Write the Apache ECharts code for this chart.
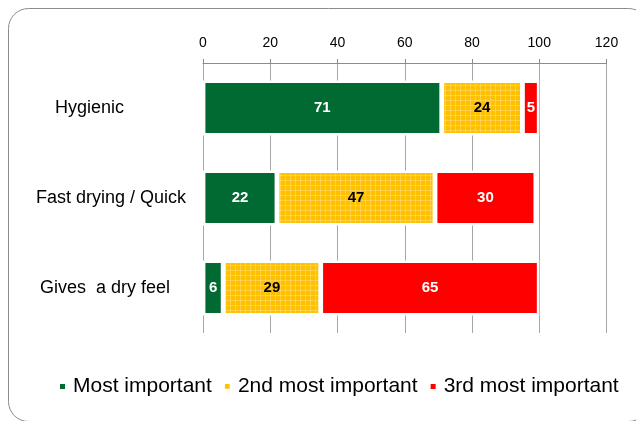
<!DOCTYPE html>
<html>
<head>
<meta charset="utf-8">
<script src="https://cdn.jsdelivr.net/npm/echarts@6/dist/echarts.min.js"></script>
<style>
html,body{margin:0;padding:0;background:#fff;}
#chart{width:636px;height:421px;}
</style>
</head>
<body>
<div id="chart"></div>
<script>
var categories = ['Hygienic', 'Fast drying / Quick', 'Gives  a dry feel'];
var mostImportant = [71, 22, 6];
var secondImportant = [24, 47, 29];
var thirdImportant = [5, 30, 65];
var seriesNames = ['Most important', '2nd most important', '3rd most important'];

var pat = document.createElement('canvas');
pat.width = 5; pat.height = 5;
var pc = pat.getContext('2d');
pc.fillStyle = '#FFC000';
pc.fillRect(0, 0, 5, 5);
pc.fillStyle = 'rgba(255,220,110,0.6)';
pc.fillRect(0, 0, 5, 1);
pc.fillRect(0, 0, 1, 5);

var labelPad = {'Hygienic': 62, 'Fast drying / Quick': 0, 'Gives  a dry feel': 16};

var chart = echarts.init(document.getElementById('chart'), null, {renderer: 'canvas'});
var font = 'Liberation Sans, Arial, sans-serif';

function barSeries(name, data, color, labelColor) {
  return {
    name: name,
    type: 'bar',
    stack: 'total',
    data: data,
    barWidth: 55,
    itemStyle: {color: color, borderColor: '#fff', borderWidth: 2.4},
    label: {
      show: true,
      position: 'inside',
      color: labelColor,
      fontFamily: font,
      fontWeight: 'bold',
      fontSize: 15
    },
    emphasis: {disabled: true}
  };
}

chart.setOption({
  animation: false,
  backgroundColor: '#fff',
  textStyle: {fontFamily: font},
  graphic: [{
    type: 'rect',
    z: -10,
    shape: {x: 8.5, y: 8.5, width: 640, height: 413, r: 20},
    style: {fill: 'none', stroke: '#8c8c8c', lineWidth: 1}
  }],
  grid: {left: 203, right: 29.5, top: 63, bottom: 88, containLabel: false},
  legend: {
    bottom: 19,
    left: 53,
    icon: 'rect',
    itemWidth: 7,
    itemHeight: 7,
    itemGap: 11,
    textStyle: {fontFamily: font, fontSize: 21, color: '#000', padding: [0, 0, 0, 2]},
    data: seriesNames
  },
  xAxis: {
    type: 'value',
    position: 'top',
    min: 0,
    max: 120,
    interval: 20,
    axisLine: {show: true, lineStyle: {color: '#8c8c8c', width: 1}},
    axisTick: {show: true, length: 4, lineStyle: {color: '#8c8c8c'}},
    splitLine: {show: true, lineStyle: {color: '#a6a6a6', width: 1}},
    axisLabel: {color: '#000', fontFamily: font, fontSize: 14, margin: 13}
  },
  yAxis: {
    type: 'category',
    inverse: true,
    data: categories,
    axisLine: {show: false},
    axisTick: {show: false},
    axisLabel: {
      margin: 17,
      formatter: function (v) {
        var k = v === 'Hygienic' ? 'a' : (v === 'Fast drying / Quick' ? 'b' : 'c');
        return '{' + k + '|' + v + '}';
      },
      rich: {
        a: {fontFamily: font, fontSize: 18, color: '#000', padding: [0, labelPad['Hygienic'], 0, 0]},
        b: {fontFamily: font, fontSize: 18, color: '#000', padding: [0, labelPad['Fast drying / Quick'], 0, 0]},
        c: {fontFamily: font, fontSize: 18, color: '#000', padding: [0, labelPad['Gives  a dry feel'], 0, 0]}
      }
    }
  },
  series: [
    barSeries(seriesNames[0], mostImportant, '#006A32', '#fff'),
    barSeries(seriesNames[1], secondImportant, {image: pat, repeat: 'repeat'}, '#000'),
    barSeries(seriesNames[2], thirdImportant, '#FF0000', '#fff')
  ]
});
</script>
</body>
</html>
